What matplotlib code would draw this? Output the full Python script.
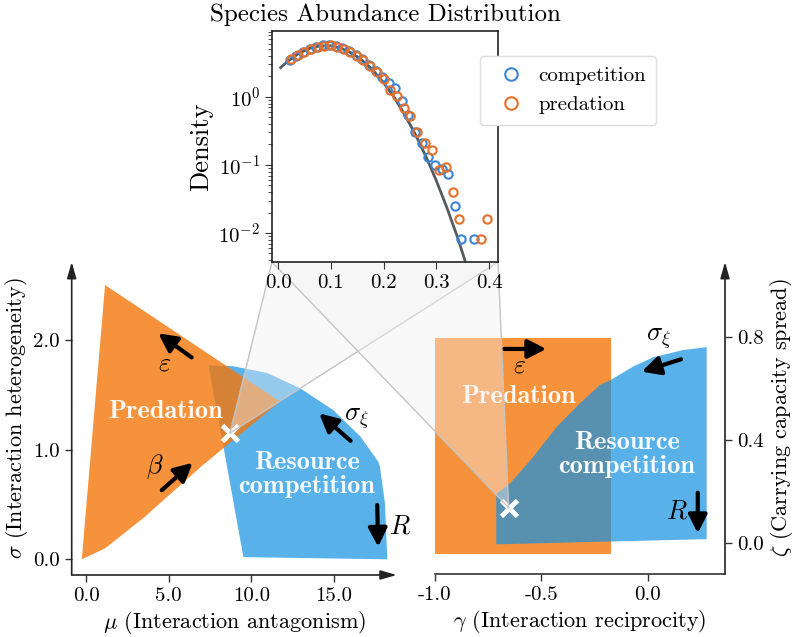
import numpy as np
import matplotlib
matplotlib.use('Agg')
import matplotlib.pyplot as plt
from matplotlib.patches import Polygon
from matplotlib.lines import Line2D

plt.rcParams['font.family'] = 'serif'
plt.rcParams['font.serif'] = ['cmr10']
plt.rcParams['mathtext.fontset'] = 'cm'
plt.rcParams['axes.formatter.use_mathtext'] = True
plt.rcParams['axes.unicode_minus'] = False

# ---- inset: species abundance distribution
curve_x = [0.005, 0.02, 0.04, 0.06, 0.08, 0.10, 0.12, 0.14, 0.16, 0.18, 0.20,
           0.22, 0.24, 0.26, 0.28, 0.30, 0.32, 0.34, 0.356]
curve_y = [2.69, 3.42, 4.39, 5.18, 5.63, 5.63, 5.18, 4.39, 3.42, 2.46, 1.62,
           0.99, 0.55, 0.285, 0.135, 0.059, 0.0237, 0.0088, 0.0036]

comp_x = [0.022, 0.035, 0.047, 0.060, 0.072, 0.085, 0.097, 0.110, 0.122, 0.135,
          0.147, 0.160, 0.172, 0.185, 0.197, 0.210, 0.222, 0.2345, 0.247, 0.260,
          0.272, 0.285, 0.298, 0.310, 0.323, 0.336, 0.346, 0.372]
comp_y = [3.5, 4.05, 4.55, 5.0, 5.4, 5.7, 5.85, 5.6, 5.15, 4.65,
          4.1, 3.55, 2.95, 2.4, 1.95, 1.6, 1.34, 0.87, 0.55, 0.31,
          0.21, 0.133, 0.10, 0.088, 0.074, 0.025, 0.0083, 0.0083]

pred_x = [0.025, 0.037, 0.050, 0.062, 0.075, 0.087, 0.100, 0.112, 0.125, 0.137,
          0.150, 0.162, 0.175, 0.187, 0.200, 0.212, 0.225, 0.239, 0.250, 0.264,
          0.279, 0.291, 0.306, 0.318, 0.331, 0.344, 0.384, 0.397]
pred_y = [3.6, 4.15, 4.6, 5.0, 5.35, 5.6, 5.7, 5.45, 5.05, 4.55,
          4.0, 3.45, 2.85, 2.35, 1.85, 1.25, 1.03, 0.68, 0.52, 0.30,
          0.21, 0.166, 0.085, 0.093, 0.040, 0.016, 0.0081, 0.016]

# ---- left panel: mu / sigma
predL_mu = [1.15, 11.74, 7.0, 3.5, 1.15, -0.26]
predL_sigma = [2.50, 1.437, 0.85, 0.38, 0.10, 0.0]
compL_mu = [7.40, 8.9, 10.93, 12.95, 14.96, 16.6, 17.68, 17.79, 18.09, 18.23, 9.52, 8.31]
compL_sigma = [1.77, 1.76, 1.70, 1.56, 1.36, 1.12, 0.89, 0.84, 0.51, 0.0, 0.02, 1.03]
crossL = (8.71, 1.15)
mu_ticks = [0.0, 5.0, 10.0, 15.0]
sigma_ticks = [0.0, 1.0, 2.0]

# ---- right panel: gamma / zeta
predR_gamma = [-1.0, -0.174, -0.174, -1.0]
predR_zeta = [-0.043, -0.043, 0.795, 0.795]
compR_gamma = [-0.712, -0.646, -0.537, -0.427, -0.318, -0.224, -0.174, -0.068,
               0.026, 0.167, 0.277, 0.277, -0.712]
compR_zeta = [0.191, 0.233, 0.336, 0.452, 0.543, 0.614, 0.633, 0.685,
              0.721, 0.749, 0.76, 0.016, -0.004]
crossR = (-0.654, 0.138)
gamma_ticks = [-1.0, -0.5, 0.0]
zeta_ticks = [0.0, 0.4, 0.8]

ORANGE = '#f5770b'
BLUE = '#1391e1'
C_COMP = '#3d85d4'
C_PRED = '#e4702c'

W, H = 796, 637
fig = plt.figure(figsize=(W/100, H/100), dpi=100)

def box(l, t, r, b):
    return [l/W, 1-b/H, (r-l)/W, (b-t)/H]

ax1 = fig.add_axes(box(71.7, 262, 396.7, 575))
ax2 = fig.add_axes(box(435, 262, 725, 574))
axi = fig.add_axes(box(272, 31, 498, 262), zorder=5)

arrow_kw = dict(arrowstyle='-|>,head_length=0.55,head_width=0.28', lw=3,
                color='k', mutation_scale=20, shrinkA=0, shrinkB=0)
axis_kw = dict(arrowstyle='-|>,head_length=0.7,head_width=0.2', lw=1.2,
               color='#222222', mutation_scale=14, shrinkA=0, shrinkB=0)

def arrow(ax, tail, head):
    ax.annotate('', xy=head, xytext=tail, arrowprops=arrow_kw)

white_lab = dict(color='white', fontsize=19, family='cmb10', ha='center', va='center',
                 alpha=0.95, linespacing=1.05)
greek = dict(fontsize=19, ha='center', va='center')

# ---------------- left panel
ax1.fill(compL_mu, compL_sigma, color=BLUE, alpha=0.7, lw=0)
ax1.fill(predL_mu, predL_sigma, color=ORANGE, alpha=0.8, lw=0)
ax1.set_xlim(-0.87, 18.8)
ax1.set_ylim(-0.143, 2.71)
for s in ax1.spines.values():
    s.set_visible(False)
ax1.annotate('', xy=(1, 0), xytext=(0, 0), xycoords='axes fraction', arrowprops=axis_kw, annotation_clip=False)
ax1.annotate('', xy=(0, 1), xytext=(0, 0), xycoords='axes fraction', arrowprops=axis_kw, annotation_clip=False)
ax1.set_xticks(mu_ticks)
ax1.set_xticklabels(['%.1f' % t for t in mu_ticks])
ax1.set_yticks(sigma_ticks)
ax1.set_yticklabels(['%.1f' % t for t in sigma_ticks])
ax1.tick_params(direction='out', length=5, width=1, color='#333333', labelsize=15)
ax1.set_xlabel(r'$\mu$ (Interaction antagonism)', fontsize=16, labelpad=3)
ax1.set_ylabel(r'$\sigma$ (Interaction heterogeneity)', fontsize=16, labelpad=2)

arrow(ax1, (6.39, 1.84), (4.37, 2.06))
arrow(ax1, (4.58, 0.63), (6.45, 0.88))
arrow(ax1, (16.01, 1.08), (14.11, 1.33))
arrow(ax1, (17.62, 0.495), (17.68, 0.115))
ax1.text(4.78, 1.78, r'$\varepsilon$', **greek)
ax1.text(4.17, 0.845, r'$\beta$', **greek)
ax1.text(16.38, 1.285, r'$\sigma_\xi$', **greek)
ax1.text(19.0, 0.30, r'$R$', **greek)
ax1.text(4.78, 1.345, 'Predation', **white_lab)
ax1.text(13.35, 0.775, 'Resource\ncompetition', **white_lab)
ax1.plot(*crossL, marker='x', color='white', ms=12, mew=3.5, zorder=5)

# ---------------- right panel
ax2.fill(predR_gamma, predR_zeta, color=ORANGE, alpha=0.8, lw=0)
ax2.fill(compR_gamma, compR_zeta, color=BLUE, alpha=0.7, lw=0)
ax2.set_xlim(-1.0, 0.363)
ax2.set_ylim(-0.119, 1.09)
for k in ['top', 'left', 'right']:
    ax2.spines[k].set_visible(False)
ax2.spines['bottom'].set_color('#333333')
ax2.spines['bottom'].set_linewidth(1.2)
ax2.annotate('', xy=(1, 1), xytext=(1, 0), xycoords='axes fraction', arrowprops=axis_kw, annotation_clip=False)
ax2.yaxis.tick_right()
ax2.yaxis.set_label_position('right')
ax2.set_xticks(gamma_ticks)
ax2.set_xticklabels(['%.1f' % t for t in gamma_ticks])
ax2.set_yticks(zeta_ticks)
ax2.set_yticklabels(['%.1f' % t for t in zeta_ticks])
ax2.tick_params(direction='out', length=5, width=1, color='#333333', labelsize=15)
ax2.set_xlabel(r'$\gamma$ (Interaction reciprocity)', fontsize=16, labelpad=3)
ax2.set_ylabel(r'$\zeta$ (Carrying capacity spread)', fontsize=16, labelpad=3)

arrow(ax2, (-0.675, 0.753), (-0.477, 0.753))
arrow(ax2, (0.156, 0.713), (-0.028, 0.665))
arrow(ax2, (0.235, 0.196), (0.235, 0.039))
ax2.text(-0.6, 0.69, r'$\varepsilon$', **greek)
ax2.text(0.05, 0.795, r'$\sigma_\xi$', **greek)
ax2.text(0.136, 0.122, r'$R$', **greek)
ax2.text(-0.607, 0.568, 'Predation', **white_lab)
ax2.text(-0.0986, 0.343, 'Resource\ncompetition', **white_lab)
ax2.plot(*crossR, marker='x', color='white', ms=12, mew=3.5, zorder=5)

# ---------------- inset
axi.set_facecolor('white')
axi.plot(curve_x, curve_y, color='#555c60', lw=2, zorder=2)
axi.plot(comp_x, comp_y, 'o', mfc='none', mec=C_COMP, ms=6, mew=1.5, label='competition', zorder=3)
axi.plot(pred_x, pred_y, 'o', mfc='none', mec=C_PRED, ms=6, mew=1.5, label='predation', zorder=3)
axi.set_yscale('log')
axi.set_xlim(-0.0114, 0.417)
axi.set_ylim(0.00375, 9.3)
axi.set_xticks([0.0, 0.1, 0.2, 0.3, 0.4])
axi.set_xticklabels(['0.0', '0.1', '0.2', '0.3', '0.4'])
axi.tick_params(which='both', direction='out', labelsize=15, color='#333333')
axi.tick_params(which='major', length=5)
axi.tick_params(which='minor', length=3)
for s in axi.spines.values():
    s.set_linewidth(1.2)
    s.set_color('#222222')
axi.set_ylabel('Density', fontsize=19, labelpad=4)
axi.set_title('Species Abundance Distribution', fontsize=18, pad=7)
axi.legend(loc='upper left', bbox_to_anchor=(0.92, 0.89), borderaxespad=0, fontsize=15,
           markerscale=1.5, handletextpad=0.3, borderpad=0.5, framealpha=1, edgecolor='#dddddd')

# ---------------- projection cones from inset to the two marked points
inv = fig.transFigure.inverted()
ll = inv.transform(axi.transAxes.transform((0, 0)))
lr = inv.transform(axi.transAxes.transform((1, 0)))
for ax, pt in [(ax1, crossL), (ax2, crossR)]:
    p = inv.transform(ax.transData.transform(pt))
    fig.add_artist(Polygon([ll, lr, p], closed=True, transform=fig.transFigure,
                           facecolor='#f2f2f2', alpha=0.4, edgecolor='none', zorder=1))
    for c in (ll, lr):
        fig.add_artist(Line2D([c[0], p[0]], [c[1], p[1]], transform=fig.transFigure,
                              color='#c4c4c4', lw=1, zorder=1))

fig.savefig('out.png', dpi=100)
